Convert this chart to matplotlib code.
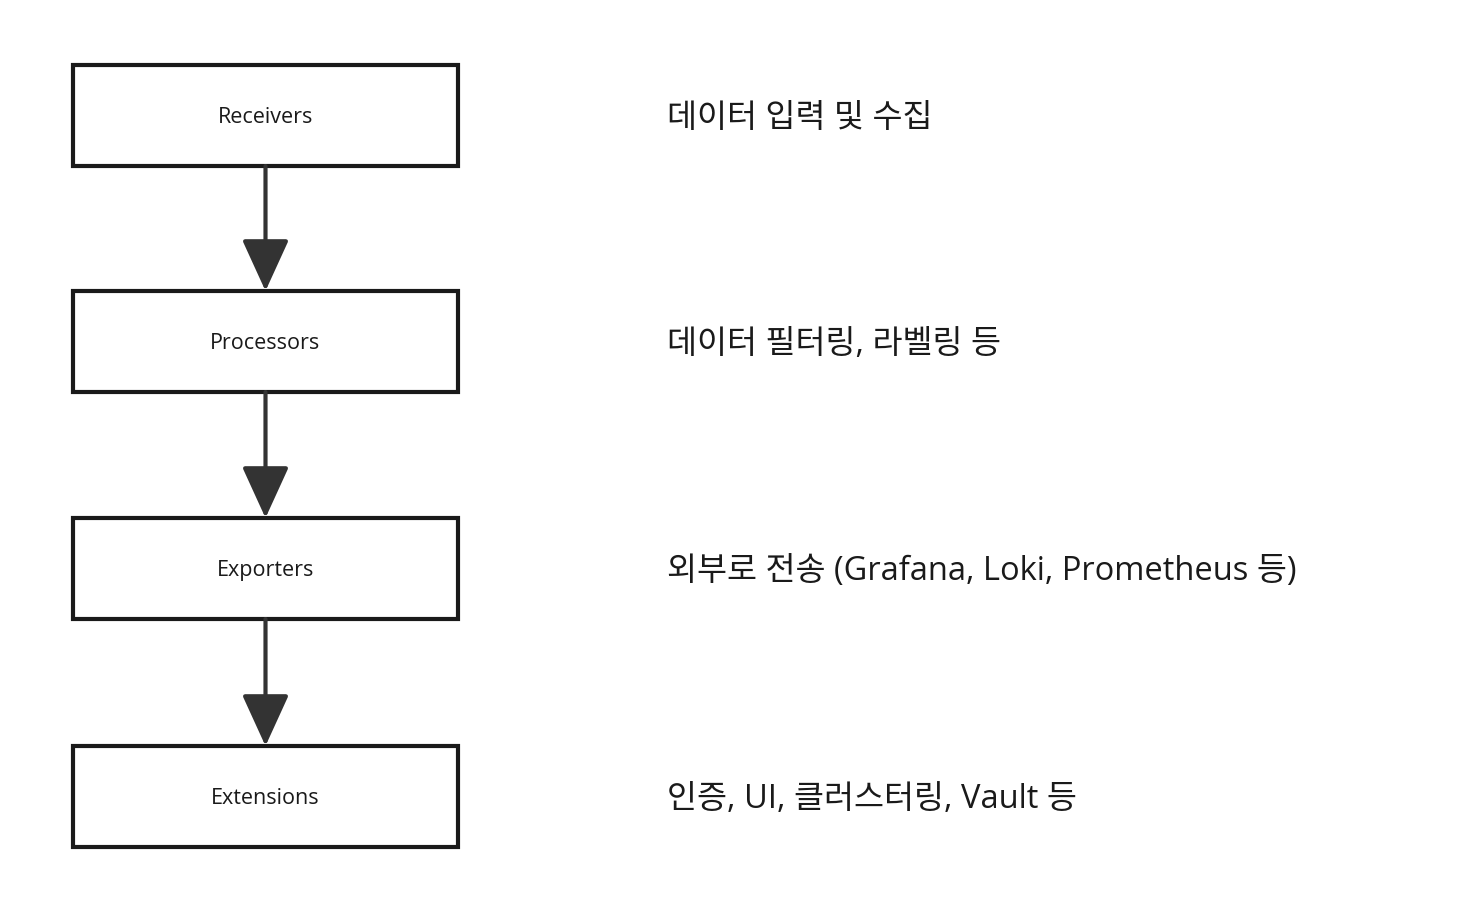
import matplotlib.pyplot as plt
from matplotlib.patches import Rectangle, FancyArrowPatch

plt.rcParams['font.family'] = ['Open Sans', 'Noto Sans CJK KR', 'DejaVu Sans']

stages = ['Receivers', 'Processors', 'Exporters', 'Extensions']
notes = ['데이터 입력 및 수집',
         '데이터 필터링, 라벨링 등',
         '외부로 전송 (Grafana, Loki, Prometheus 등)',
         '인증, UI, 클러스터링, Vault 등']
box_top = [65, 291, 518, 746]
box_h = 101
box_x, box_w = 73, 385
note_x = 667
dark = '#333333'

fig = plt.figure(figsize=(14.7, 9.16), dpi=100)
ax = fig.add_axes([0, 0, 1, 1])
ax.set_xlim(0, 1470)
ax.set_ylim(916, 0)
ax.axis('off')

for i, (name, note, top) in enumerate(zip(stages, notes, box_top)):
    ax.add_patch(Rectangle((box_x, top), box_w, box_h, fill=False,
                           edgecolor='#1a1a1a', linewidth=3))
    cy = top + box_h / 2 + 2
    ax.text(box_x + box_w / 2, cy, name, ha='center', va='center',
            fontsize=15.5, color='#1a1a1a')
    ax.text(note_x, cy + 1, note, ha='left', va='center', fontsize=23.5,
            color='#1a1a1a')
    if i < len(stages) - 1:
        ax.add_patch(FancyArrowPatch(
            (box_x + box_w / 2, top + box_h), (box_x + box_w / 2, box_top[i + 1]),
            arrowstyle='-|>,head_length=2.3,head_width=1.05',
            mutation_scale=14, color=dark, linewidth=3, shrinkA=0, shrinkB=0))

fig.savefig('out.png', dpi=100)
